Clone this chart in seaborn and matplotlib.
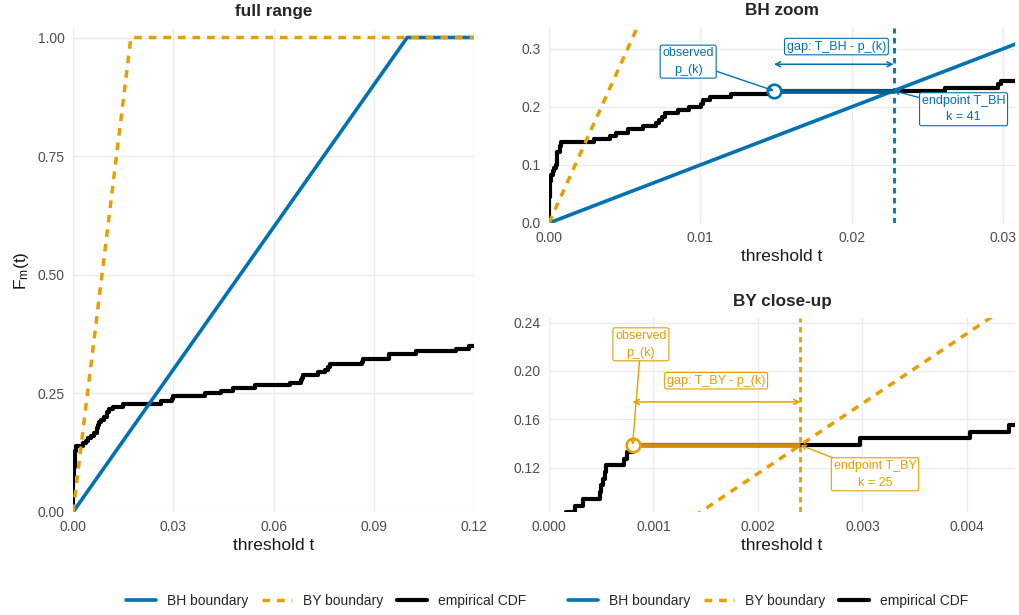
import numpy as np
import pandas as pd
import matplotlib
matplotlib.use("Agg")
import matplotlib.pyplot as plt
from matplotlib.lines import Line2D
import seaborn as sns

# ---------------- data ----------------
alpha = 0.1
n_tests = 180
# sorted p-values that fall at or below 0.12 (the other 117 tests lie above 0.12)
p_sorted = [0.000001, 0.000003, 0.000006, 0.00001, 0.000014, 0.00002, 0.000027,
            0.000035, 0.000045, 0.000058, 0.00007, 0.000085, 0.0001, 0.00012,
            0.00016, 0.00025, 0.00033, 0.00049, 0.00050, 0.00052, 0.00054,
            0.00055, 0.00072, 0.00075, 0.00080, 0.00298, 0.00403, 0.00440,
            0.00523, 0.00622, 0.00705, 0.00730, 0.00750, 0.00770, 0.00850,
            0.00925, 0.01005, 0.01018, 0.01062, 0.01200, 0.01487, 0.02620,
            0.02970, 0.02990, 0.03940, 0.04440, 0.04790, 0.05440, 0.06480,
            0.06830, 0.06850, 0.06880, 0.07340, 0.07540, 0.07630, 0.07700,
            0.08660, 0.08680, 0.09450, 0.09470, 0.10250, 0.11450, 0.11850]
k_bh = 41
k_by = 25
series_labels = ["BH boundary", "BY boundary", "empirical CDF"]
panel_titles = ["full range", "BH zoom", "BY close-up"]

full_xticks = [0.0, 0.03, 0.06, 0.09, 0.12]
full_yticks = [0.0, 0.25, 0.5, 0.75, 1.0]
bh_xticks = [0.0, 0.01, 0.02, 0.03]
bh_yticks = [0.0, 0.1, 0.2, 0.3]
by_xticks = [0.0, 0.001, 0.002, 0.003, 0.004]
by_yticks = [0.12, 0.16, 0.20, 0.24]

BLUE = "#0072B2"
ORANGE = "#E69F00"
DARK_BLUE = "#005C91"
DARK_ORANGE = "#D18C00"

# ---------------- derived ----------------
c_m = sum(1.0 / i for i in range(1, n_tests + 1))
T_bh = k_bh * alpha / n_tests
T_by = k_by * alpha / (n_tests * c_m)
x_end = 0.125

ecdf = pd.DataFrame({
    "t": [0.0] + p_sorted + [x_end],
    "F": [0.0] + [i / n_tests for i in range(1, len(p_sorted) + 1)] + [len(p_sorted) / n_tests],
})
t_b = np.array([0.0, alpha / c_m, alpha, x_end])
bnd = pd.DataFrame({
    "t": t_b,
    "BH": np.minimum(t_b / alpha, 1.0),
    "BY": np.minimum(t_b * c_m / alpha, 1.0),
})

# ---------------- style ----------------
sns.set_theme(style="whitegrid")
plt.rcParams["font.family"] = ["Liberation Sans", "DejaVu Sans"]
plt.rcParams["mathtext.fontset"] = "custom"
plt.rcParams["mathtext.rm"] = "Liberation Sans"
plt.rcParams["mathtext.it"] = "Liberation Sans"

fig = plt.figure(figsize=(10.2, 6.15), dpi=100)
ax_full = fig.add_axes([0.0716, 0.1675, 0.3931, 0.7854])
ax_bh = fig.add_axes([0.5382, 0.6374, 0.4569, 0.3171])
ax_by = fig.add_axes([0.5382, 0.1675, 0.4569, 0.3154])

DASH = (0, (2.2, 2.0))


def draw_base(ax):
    sns.lineplot(data=ecdf, x="t", y="F", ax=ax, color="black", lw=3.0,
                 drawstyle="steps-post", estimator=None, sort=False, zorder=3)
    sns.lineplot(data=bnd, x="t", y="BH", ax=ax, color=BLUE, lw=2.6,
                 estimator=None, sort=False, zorder=4)
    sns.lineplot(data=bnd, x="t", y="BY", ax=ax, color=ORANGE, lw=2.5,
                 estimator=None, sort=False, zorder=5, linestyle=DASH)


def style_axes(ax, title, xticks, yticks, xfmt, yfmt, xlim, ylim, ylabel=None):
    ax.set_xlim(*xlim)
    ax.set_ylim(*ylim)
    ax.set_xticks(xticks)
    ax.set_yticks(yticks)
    ax.set_xticklabels([xfmt.format(v) for v in xticks])
    ax.set_yticklabels([yfmt.format(v) for v in yticks])
    ax.tick_params(axis="both", length=0, labelsize=10, labelcolor="#4D4D4D")
    ax.tick_params(axis="x", pad=5.5)
    ax.tick_params(axis="y", pad=6)
    for s in ax.spines.values():
        s.set_visible(False)
    ax.grid(True, color="#EBEBEB", lw=1.0)
    ax.set_facecolor("white")
    ax.set_title(title, fontsize=12.3, fontweight="bold", pad=9)
    ax.set_xlabel("threshold t", fontsize=12.5, labelpad=3, color="#1A1A1A")
    ax.set_ylabel(ylabel if ylabel else "", fontsize=12.5, labelpad=5, color="#1A1A1A")


# full range
draw_base(ax_full)
style_axes(ax_full, panel_titles[0], full_xticks, full_yticks, "{:.2f}", "{:.2f}",
           (0, 0.12), (0, 1.018), ylabel=r"$\mathrm{F_m(t)}$")


def annotate_panel(ax, k, T, color, dark, arrow_y, gap_xy, gap_text, obs_xy, end_xy, end_text):
    p_k = p_sorted[k - 1]
    F_k = k / n_tests
    ax.axvline(T, color=color, lw=2.0, linestyle=(0, (2.0, 1.6)), zorder=6)
    ax.plot([p_k, T], [F_k, F_k], color=dark, lw=3.4, zorder=7, solid_capstyle="butt")
    ax.scatter([p_k], [F_k], s=95, facecolor="white", edgecolor=color, lw=1.9, zorder=8)
    ax.annotate("", xy=(p_k, arrow_y), xytext=(T, arrow_y),
                arrowprops=dict(arrowstyle="<->", color=color, lw=1.1,
                                shrinkA=0, shrinkB=0, mutation_scale=9), zorder=9)
    box = dict(boxstyle="round,pad=0.18,rounding_size=0.15", fc="white", ec=color, lw=0.8)
    ax.text(gap_xy[0], gap_xy[1], gap_text, ha="center", va="center", fontsize=9,
            color=color, bbox=box, zorder=10)
    ax.annotate("observed\np_(k)", xy=(p_k, F_k), xytext=obs_xy, ha="center", va="center",
                fontsize=9, color=color, linespacing=1.5, bbox=box,
                arrowprops=dict(arrowstyle="->", color=color, lw=1.0, shrinkA=0, shrinkB=0,
                                mutation_scale=8), zorder=10)
    ax.annotate(end_text, xy=(T, F_k), xytext=end_xy, ha="center", va="center",
                fontsize=9, color=color, linespacing=1.5, bbox=box,
                arrowprops=dict(arrowstyle="->", color=color, lw=1.0, shrinkA=0, shrinkB=0,
                                mutation_scale=8), zorder=10)


# BH zoom
draw_base(ax_bh)
style_axes(ax_bh, panel_titles[1], bh_xticks, bh_yticks, "{:.2f}", "{:.1f}",
           (0, 0.0308), (0, 0.336))
annotate_panel(ax_bh, k_bh, T_bh, BLUE, DARK_BLUE, 0.2735, (0.0190, 0.304),
               "gap: T_BH - p_(k)", (0.0092, 0.278), (0.0274, 0.196),
               "endpoint T_BH\nk = %d" % k_bh)

# BY close-up
draw_base(ax_by)
style_axes(ax_by, panel_titles[2], by_xticks, by_yticks, "{:.3f}", "{:.2f}",
           (0, 0.00446), (0.0837, 0.2437))
annotate_panel(ax_by, k_by, T_by, ORANGE, DARK_ORANGE, 0.1745, (0.0016, 0.192),
               "gap: T_BY - p_(k)", (0.00088, 0.222), (0.00312, 0.1148),
               "endpoint T_BY\nk = %d" % k_by)

# legends
handles = [Line2D([], [], color=BLUE, lw=2.6),
           Line2D([], [], color=ORANGE, lw=2.5, linestyle=(0, (2.2, 2.0))),
           Line2D([], [], color="black", lw=3.0)]
for cx in (0.320, 0.753):
    fig.legend(handles, series_labels, loc="center", bbox_to_anchor=(cx, 0.023), ncol=3,
               frameon=False, fontsize=10, handlelength=2.15, handletextpad=0.8,
               columnspacing=1.0)

fig.savefig("out.png", dpi=100, facecolor="white")
